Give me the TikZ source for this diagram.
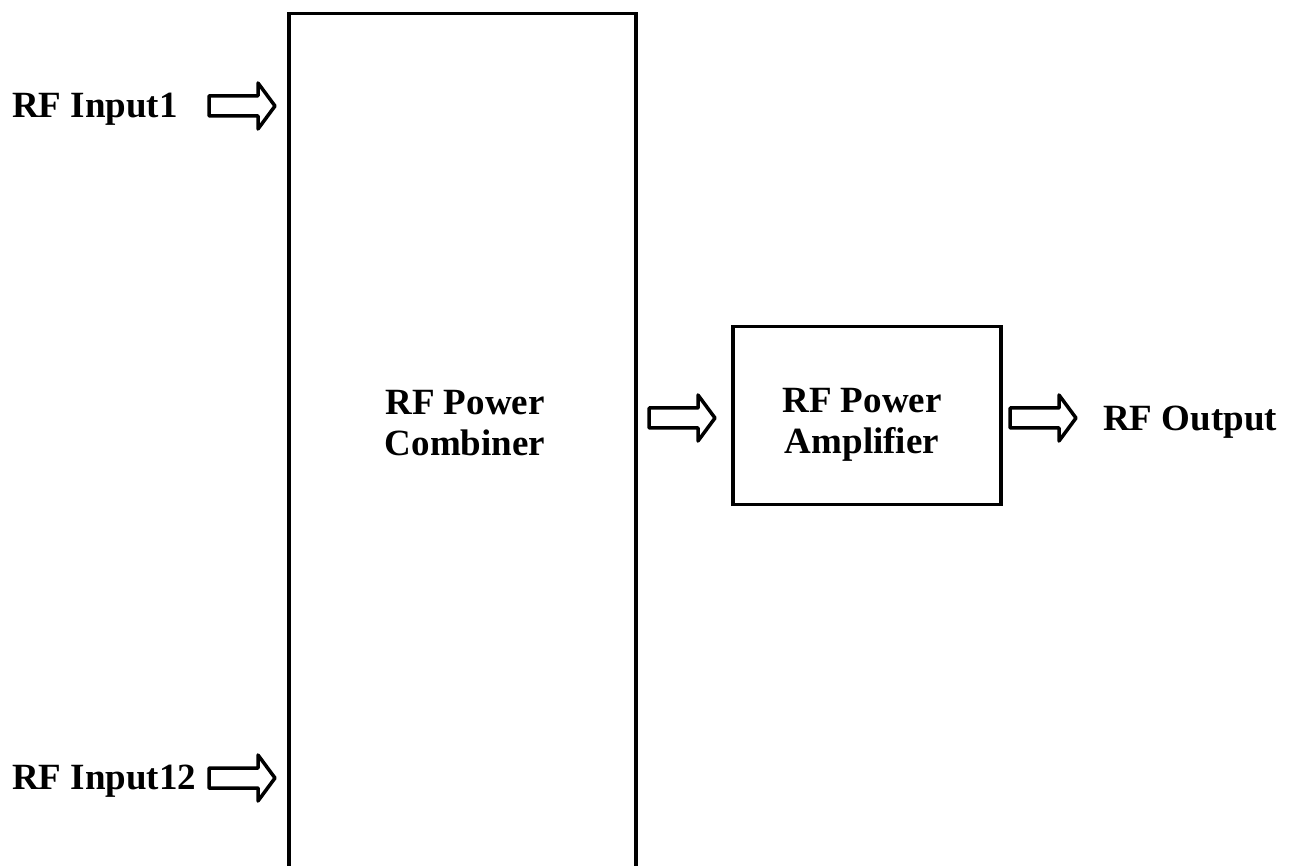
\documentclass[tikz,border=0pt]{standalone}
\usepackage{fontspec}
\setmainfont{Liberation Serif}
\begin{document}
\begin{tikzpicture}[x=1pt,y=-1pt,
  blk/.style={draw=black,line width=3.5pt,fill=white,inner sep=0pt},
  lbl/.style={font=\fontsize{37}{41}\selectfont\bfseries,inner sep=0pt,align=center},
  barrow/.pic={\draw[line width=3.5pt,line join=round,fill=white] (0,-10)--(49,-10)--(49,-23)--(66,0)--(49,23)--(49,10)--(0,10)--cycle;}]
\useasboundingbox (0,0) rectangle (1294,866);
\clip (0,0) rectangle (1294,866);
\node[blk,minimum width=347pt,minimum height=890pt,anchor=north west] (comb) at (287,12) {};
\node[lbl] (combt) at (465,423) {RF Power\\Combiner};
\node[blk,minimum width=268pt,minimum height=178pt,anchor=north west] (amp) at (731,325) {};
\node[lbl] (ampt) at (862,425) {RF Power\\Amplifier};
\node[lbl,anchor=west] (in1) at (12,109) {RF Input1};
\node[lbl,anchor=west] (in12) at (12,781) {RF Input12};
\node[lbl,anchor=west] (out) at (1103,422) {RF Output};
\pic at (209,106) {barrow};
\pic at (209,778) {barrow};
\pic at (649,418) {barrow};
\pic at (1010,418) {barrow};
\end{tikzpicture}
\end{document}
